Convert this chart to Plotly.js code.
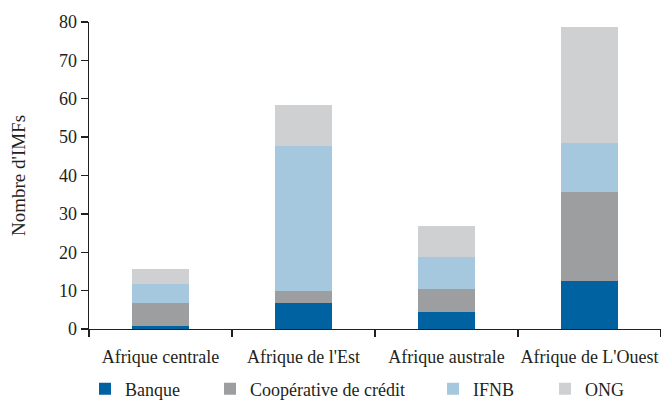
<!DOCTYPE html>
<html>
<head>
<meta charset="utf-8">
<script src="https://cdn.plot.ly/plotly-3.0.1.min.js"></script>
<style>html,body{margin:0;padding:0;background:#fff;}#chart{width:661px;height:400px;}</style>
</head>
<body>
<div id="chart"></div>
<script>
const categories = ["Afrique centrale", "Afrique de l'Est", "Afrique australe", "Afrique de L'Ouest"];
const banque = [0.9, 6.9, 4.5, 12.6];
const cooperative = [6.0, 3.1, 6.0, 23.0];
const ifnb = [4.9, 37.6, 8.2, 13.0];
const ong = [3.9, 10.9, 8.2, 30.0];
const seriesNames = ["Banque", "Coopérative de crédit", "IFNB", "ONG"];
const yTicks = [0, 10, 20, 30, 40, 50, 60, 70, 80];

const colors = ["#0062a0", "#9d9ea0", "#a6c8df", "#cfd0d2"];
const values = [banque, cooperative, ifnb, ong];
const legendIds = ["legend", "legend2", "legend3", "legend4"];
const legendX = [85, 210, 433, 545];

const family = "'Liberation Serif', 'DejaVu Serif', serif";
const font = {family: family, size: 18, color: "#231f20"};

const traces = values.map((v, i) => ({
  type: "bar",
  name: seriesNames[i],
  x: categories,
  y: v,
  marker: {color: colors[i], line: {width: 0}},
  legend: legendIds[i],
  hoverinfo: "skip"
}));

const W = 661, H = 400;
const plotTop = 22, plotBottom = 329;
const layout = {
  width: W, height: H,
  margin: {l: 89, r: 0, t: plotTop, b: H - plotBottom, autoexpand: false},
  barmode: "stack",
  bargap: 0.6,
  paper_bgcolor: "#fff",
  plot_bgcolor: "#fff",
  font: font,
  xaxis: {
    type: "category",
    showline: true, linecolor: "#231f20", linewidth: 1.3,
    ticks: "outside", tickson: "boundaries", ticklen: 7, tickcolor: "#231f20", tickwidth: 1.3,
    showgrid: false, zeroline: false,
    tickangle: 0,
    ticklabelstandoff: 11,
    tickfont: font
  },
  yaxis: {
    range: [0, 80],
    tickvals: yTicks,
    showline: true, linecolor: "#231f20", linewidth: 1.3,
    ticks: "outside", ticklen: 7, tickcolor: "#231f20", tickwidth: 1.3,
    showgrid: false, zeroline: false,
    tickfont: font,
    title: {text: "Nombre d'IMFs", font: {family: family, size: 19, color: "#231f20"}, standoff: 28}
  },
  showlegend: true
};
legendIds.forEach((id, i) => {
  layout[id] = {
    x: (legendX[i] - 89) / (W - 89), xanchor: "left",
    yref: "paper", y: (plotBottom - 389) / (plotBottom - plotTop), yanchor: "middle",
    orientation: "h",
    bgcolor: "rgba(0,0,0,0)",
    font: font,
    itemwidth: 30,
    tracegroupgap: 0
  };
});

Plotly.newPlot("chart", traces, layout, {displayModeBar: false, staticPlot: true});
</script>
</body>
</html>
